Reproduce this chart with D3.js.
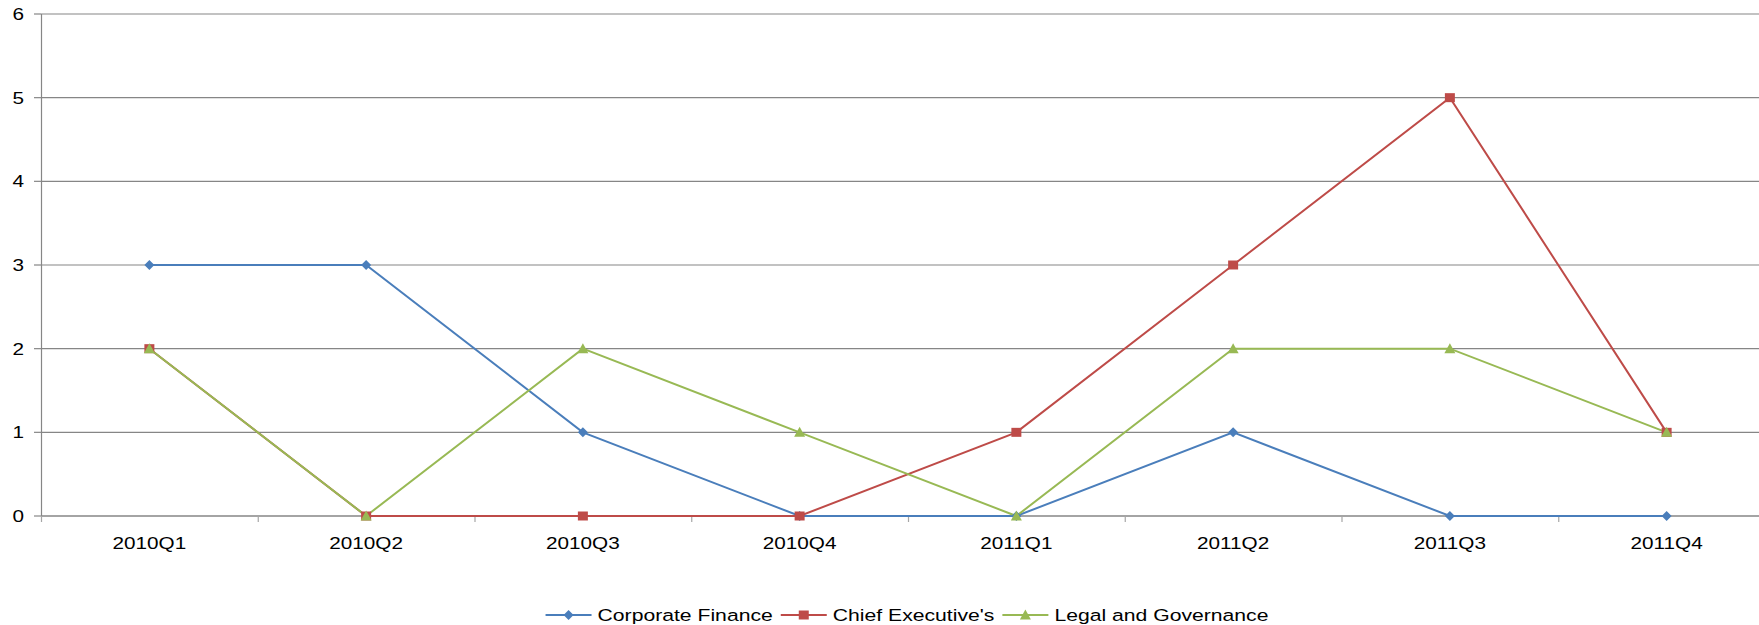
<!DOCTYPE html>
<html>
<head>
<meta charset="utf-8">
<script src="https://cdn.jsdelivr.net/npm/d3@7"></script>
<style>
  body { margin: 0; background: #fff; }
  svg { display: block; }
  text { font-family: "Liberation Sans", Arial, sans-serif; fill: #000; }
</style>
</head>
<body>
<div id="chart"></div>
<script>
// chart data
const quarters = ["2010Q1", "2010Q2", "2010Q3", "2010Q4", "2011Q1", "2011Q2", "2011Q3", "2011Q4"];
const corporateFinance = [3, 3, 1, 0, 0, 1, 0, 0];
const chiefExecutives = [2, 0, 0, 0, 1, 3, 5, 1];
const legalGovernance = [2, 0, 2, 1, 0, 2, 2, 1];
const yTicks = [0, 1, 2, 3, 4, 5, 6];

const series = [
    { name: "Corporate Finance", values: corporateFinance, color: "#4a7ebb", marker: "diamond" },
    { name: "Chief Executive's", values: chiefExecutives, color: "#be4b48", marker: "square" },
    { name: "Legal and Governance", values: legalGovernance, color: "#98b954", marker: "triangle" }
];

const width = 1759, height = 625;
const stretch = 1.22; // the text in the original is wider than it is tall
const fontSize = 17;

// plot area (right edge runs past the window, like the original)
const plot = { left: 41, right: 1775, top: 14, bottom: 516 };

const svg = d3.select("#chart").append("svg")
    .attr("width", width)
    .attr("height", height);

const x = d3.scaleBand().domain(quarters).range([plot.left, plot.right]);
const y = d3.scaleLinear().domain([0, 6]).range([plot.bottom, plot.top]);

// gridlines
svg.append("g").selectAll("line")
    .data(yTicks.filter(d => d > 0))
    .join("line")
    .attr("x1", plot.left).attr("x2", plot.right)
    .attr("y1", d => y(d)).attr("y2", d => y(d))
    .attr("stroke", "#868686")
    .attr("stroke-width", 1.2);

// y axis
svg.append("line")
    .attr("x1", plot.left + 0.5).attr("x2", plot.left + 0.5)
    .attr("y1", plot.top).attr("y2", plot.bottom)
    .attr("stroke", "#868686").attr("stroke-width", 1.2);

svg.append("g").selectAll("line")
    .data(yTicks)
    .join("line")
    .attr("x1", plot.left - 7).attr("x2", plot.left)
    .attr("y1", d => y(d)).attr("y2", d => y(d))
    .attr("stroke", "#868686").attr("stroke-width", 1.2);

svg.append("g").selectAll("text")
    .data(yTicks)
    .join("text")
    .attr("transform", d => `translate(24, ${y(d) + 6}) scale(${stretch},1)`)
    .attr("text-anchor", "end")
    .style("font-size", fontSize + "px")
    .text(d => d);

// x axis
svg.append("line")
    .attr("x1", plot.left).attr("x2", plot.right)
    .attr("y1", plot.bottom).attr("y2", plot.bottom)
    .attr("stroke", "#868686").attr("stroke-width", 1.4);

const boundaries = quarters.map(q => x(q)).concat([plot.right]);
svg.append("g").selectAll("line")
    .data(boundaries)
    .join("line")
    .attr("x1", d => d + 0.5).attr("x2", d => d + 0.5)
    .attr("y1", plot.bottom).attr("y2", plot.bottom + 6)
    .attr("stroke", "#a6a6a6").attr("stroke-width", 1.2);

svg.append("g").selectAll("text")
    .data(quarters)
    .join("text")
    .attr("transform", d => `translate(${x(d) + x.bandwidth() / 2}, 549) scale(${stretch},1)`)
    .attr("text-anchor", "middle")
    .style("font-size", fontSize + "px")
    .text(d => d);

// marker shapes
function markerPath(type) {
    if (type === "diamond") return "M0,-5L5,0L0,5L-5,0Z";
    if (type === "square") return "M-5,-4.5H5V4.5H-5Z";
    return "M0,-5.5L5.5,4.5H-5.5Z";
}

const cx = (d, i) => x(quarters[i]) + x.bandwidth() / 2;

const line = d3.line()
    .x((d, i) => cx(d, i))
    .y(d => y(d));

series.forEach(s => {
    svg.append("path")
        .datum(s.values)
        .attr("fill", "none")
        .attr("stroke", s.color)
        .attr("stroke-width", 2)
        .attr("d", line);
});

series.forEach(s => {
    svg.append("g").selectAll("path")
        .data(s.values)
        .join("path")
        .attr("transform", (d, i) => `translate(${cx(d, i)}, ${y(d)})`)
        .attr("d", markerPath(s.marker))
        .attr("fill", s.color);
});

// legend
const legendStretch = 1.245;
const legend = svg.append("g");
let lx = 0;
series.forEach((s, i) => {
    const item = legend.append("g").attr("transform", `translate(${lx}, 0)`);
    item.append("line")
        .attr("x1", 0).attr("x2", 46)
        .attr("y1", 0).attr("y2", 0)
        .attr("stroke", s.color).attr("stroke-width", 2);
    item.append("path")
        .attr("transform", "translate(23, 0)")
        .attr("d", markerPath(s.marker))
        .attr("fill", s.color);
    const t = item.append("text")
        .attr("transform", `translate(52, 6) scale(${legendStretch},1)`)
        .style("font-size", fontSize + "px")
        .text(s.name);
    lx += 52 + t.node().getComputedTextLength() * legendStretch + 8;
});
const legendWidth = lx - 8;
legend.attr("transform", `translate(${907 - legendWidth / 2}, 615)`);
</script>
</body>
</html>
